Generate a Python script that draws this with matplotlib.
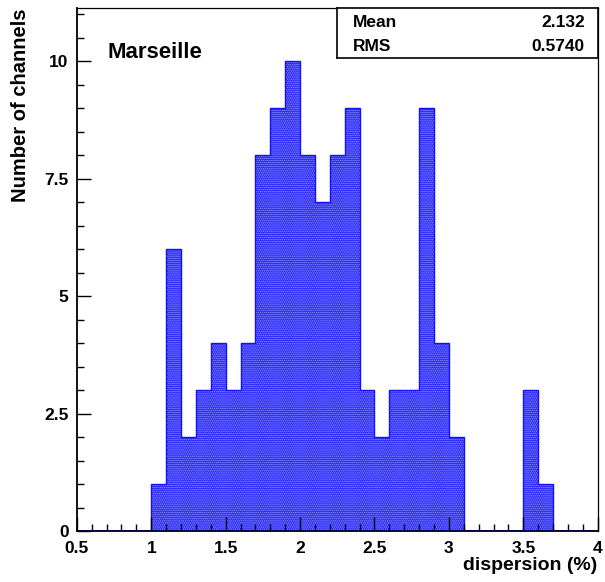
import numpy as np
import matplotlib
matplotlib.use("Agg")
from matplotlib import pyplot as plt
from matplotlib.ticker import MultipleLocator, FuncFormatter

# channel dispersion histogram, 0.1 wide bins
bin_lo = [1.0, 1.1, 1.2, 1.3, 1.4, 1.5, 1.6, 1.7, 1.8, 1.9, 2.0, 2.1,
          2.2, 2.3, 2.4, 2.5, 2.6, 2.7, 2.8, 2.9, 3.0, 3.5, 3.6]
counts = [1, 6, 2, 3, 4, 3, 4, 8, 9, 10, 8, 7,
          8, 9, 3, 2, 3, 3, 9, 4, 2, 3, 1]
stat_names = ["Mean", "RMS"]
stat_values = ["2.132", "0.5740"]

plt.rcParams["font.family"] = ["Liberation Sans", "DejaVu Sans"]
plt.rcParams["font.weight"] = "bold"
plt.rcParams["hatch.linewidth"] = 0.7

fig = plt.figure(figsize=(6.05, 5.82), dpi=100)
ax = fig.add_axes([0.127, 0.0876, 0.861, 0.898])

# solid fill with a light dot pattern on top
ax.bar(bin_lo, counts, width=0.1, align="edge", color="#2424ff",
       linewidth=0)
ax.bar(bin_lo, counts, width=0.1, align="edge", fill=False,
       edgecolor="#9a9aff", linewidth=0, hatch="........")

# histogram outline as a single step line
edges = np.round(np.arange(0.5, 4.0001, 0.1), 2)
full = np.zeros(len(edges) - 1)
for lo, c in zip(bin_lo, counts):
    full[int(round((lo - 0.5) / 0.1))] = c
ax.stairs(full, edges, color="#1010ff", linewidth=1.0)
ax.axhline(0, color="#000040", linewidth=1.3, zorder=3)

ax.set_xlim(0.5, 4.0)
ax.set_ylim(0, 11.13)

ax.xaxis.set_major_locator(MultipleLocator(0.5))
ax.xaxis.set_minor_locator(MultipleLocator(0.1))
ax.yaxis.set_major_locator(MultipleLocator(2.5))
ax.yaxis.set_minor_locator(MultipleLocator(0.5))
ax.xaxis.set_major_formatter(FuncFormatter(lambda v, p: f"{v:g}"))
ax.yaxis.set_major_formatter(FuncFormatter(lambda v, p: f"{v:g}"))

ax.tick_params(which="both", direction="in", top=False, right=False,
               labelsize=12.5, width=1.0)
ax.tick_params(which="major", length=10)
ax.tick_params(which="minor", length=5)
ax.tick_params(axis="x", pad=7)
ax.tick_params(axis="y", pad=6)

for side in ["left", "bottom"]:
    ax.spines[side].set_linewidth(1.3)
for side in ["top", "right"]:
    ax.spines[side].set_linewidth(0.9)

ax.set_xlabel("dispersion (%)", fontsize=14, fontweight="bold", loc="right",
              labelpad=1)
ax.set_ylabel("Number of channels", fontsize=14.5, fontweight="bold", loc="top",
              labelpad=10)

ax.text(0.058, 0.916, "Marseille", transform=ax.transAxes, fontsize=16,
        fontweight="bold", va="center", ha="left")

# statistics box
box = ax.inset_axes([0.5, 0.906, 0.5, 0.094])
box.set_xticks([])
box.set_yticks([])
for s in box.spines.values():
    s.set_linewidth(1.2)
for i, (name, val) in enumerate(zip(stat_names, stat_values)):
    y = 0.72 - i * 0.5
    box.text(0.06, y, name, fontsize=12.5, fontweight="bold", va="center",
             ha="left", transform=box.transAxes)
    box.text(0.95, y, val, fontsize=12.5, fontweight="bold", va="center",
             ha="right", transform=box.transAxes)

fig.savefig("out.png", dpi=100)
